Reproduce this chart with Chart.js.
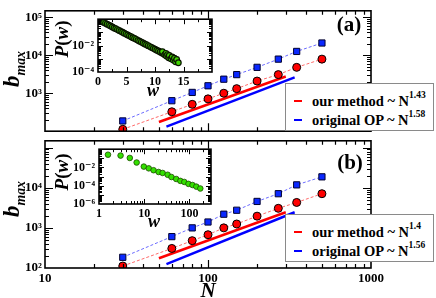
<!DOCTYPE html>
<html>
<head>
<meta charset="utf-8">
<script src="https://cdn.jsdelivr.net/npm/chart.js@4.4.1/dist/chart.umd.min.js"></script>
<style>
html, body { margin: 0; padding: 0; background: #fff; }
#wrap { position: relative; width: 436px; height: 298px; overflow: hidden;
  font-family: "Liberation Serif", "DejaVu Serif", serif; font-weight: bold; color: #000; }
canvas { position: absolute; }
.lbl { position: absolute; white-space: nowrap; line-height: 1; }
.rot { transform: translate(-50%, -50%) rotate(-90deg); }
.ctr { transform: translate(-50%, -50%); }
.leg { position: absolute; background: #fff; border: 1px solid #8a8a8a; box-sizing: border-box; }
.leg .row { position: absolute; left: 8px; white-space: nowrap; font-size: 14.5px; line-height: 1; }
.leg .sw { display: inline-block; width: 8px; height: 2px; vertical-align: middle; margin-right: 10px; position: relative; top: -2px; }
.leg sup { font-size: 9.5px; position: relative; top: -3px; vertical-align: top; }
sub { font-size: 60%; }
</style>
</head>
<body>
<div id="wrap">
  <canvas id="mainA" width="436" height="142" style="left:0;top:0"></canvas>
  <canvas id="mainB" width="436" height="168" style="left:0;top:130px"></canvas>
  <canvas id="insetA" width="165" height="88" style="left:55px;top:8px"></canvas>
  <canvas id="insetB" width="165" height="92" style="left:55px;top:138px"></canvas>
</div>
<script>
// ---- data ----
const N_SIZES = [30, 60, 80, 100, 125, 150, 200, 270, 350, 500];
const A_OURS  = [112, 325, 510, 710, 1000, 1320, 2090, 3090, 4800, 7900];
const A_ORIG  = [186, 635, 1050, 1570, 2340, 3090, 4800, 7900, 12600, 21000];
const B_OURS  = [112, 307, 480, 675, 1000, 1250, 1960, 3070, 4300, 7100];
const B_ORIG  = [185, 605, 1000, 1400, 2190, 2750, 4560, 7100, 11800, 18700];

// power-law guide lines (end points)
const FIT_N_OURS = [50, 300];
const FIT_N_ORIG = [55.6, 340];
const A_FIT_OURS = [175, 2750];
const A_FIT_ORIG = [132, 2600];
const B_FIT_OURS = [175, 2450];
const B_FIT_ORIG = [125, 2450];

const LEG_TEXT = ['our method ~ N', 'original OP ~ N'];
const LEG_EXP_A = ['1.43', '1.58'];
const LEG_EXP_B = ['1.4', '1.56'];

// inset (a): P(w), linear w
const INA_W = [0.7, 1.0, 1.3, 1.6, 1.9, 2.2, 2.5, 2.8, 3.1, 3.4, 3.7, 4.0, 4.3, 4.6, 4.9, 5.2, 5.5, 5.8,
  6.1, 6.4, 6.7, 7.0, 7.3, 7.6, 7.9, 8.2, 8.5, 8.8, 9.1, 9.4, 9.7, 10.0, 10.3, 10.6, 10.9, 11.2, 11.5,
  11.3, 11.7, 11.9, 12.0, 12.2, 12.4, 12.5, 12.8, 13.0, 13.2, 13.4, 13.6, 13.8, 14.1];
const INA_P = [0.68, 0.57, 0.49, 0.42, 0.36, 0.31, 0.26, 0.22, 0.19, 0.165, 0.14, 0.12, 0.103, 0.088, 0.075,
  0.064, 0.055, 0.047, 0.040, 0.035, 0.030, 0.025, 0.0215, 0.0185, 0.0158, 0.0135, 0.0116, 0.0099, 0.0085,
  0.0072, 0.0062, 0.0053, 0.0045, 0.0039, 0.0033, 0.0028, 0.0024,
  0.0035, 0.0020, 0.0026, 0.0016, 0.0021, 0.0012, 0.0018, 0.0010, 0.0014, 0.0008, 0.0011, 0.0006, 0.0009, 0.0005];

// inset (b): P(w), log-binned
const INB_W = [1.58, 3.0, 4.8, 6.8, 9.8, 12.6, 16.1, 20.8, 25.5, 33, 40, 51, 63, 77, 95, 117, 142, 174];
const INB_P = [0.25, 0.2, 0.11, 0.035, 0.0125, 0.008, 0.005, 0.0032, 0.0025, 0.0016, 0.0009, 0.00055,
  0.00034, 0.00026, 0.00016, 0.00012, 0.00008, 0.00005];

// tick labels shown
const MAIN_X_LABELS = [10, 100, 1000];
const A_Y_EXPS = [3, 4, 5];
const B_Y_EXPS = [2, 3, 4];
const INA_X_LABELS = [0, 5, 10, 15];
const INA_Y_EXPS = [-2, -4];
const INB_X_LABELS = [1, 10, 100];
const INB_Y_EXPS = [-2, -4, -6];

// ---- helpers ----
const SERIF = '"Liberation Serif", "DejaVu Serif", serif';
const SUP = { '0': '⁰', '1': '¹', '2': '²', '3': '³', '4': '⁴', '5': '⁵', '6': '⁶', '7': '⁷', '8': '⁸', '9': '⁹', '-': '⁻' };
const isPow10 = v => v > 0 && Math.abs(Math.log10(v) - Math.round(Math.log10(v))) < 1e-6;
const isNice = v => {
  const m = v / Math.pow(10, Math.floor(Math.log10(v) + 1e-9));
  return Math.abs(m - Math.round(m)) < 1e-6;
};
const powLabel = exps => v => {
  if (!isPow10(v)) return '';
  const e = Math.round(Math.log10(v));
  return exps.includes(e) ? '10' + String(e).split('').map(c => SUP[c]).join('') : '';
};
const pts = (xs, ys) => xs.map((x, i) => ({ x, y: ys[i] }));
const noGrid = { display: false, drawTicks: false };

// frame with inward ticks on all four sides
const frameTicks = {
  id: 'frameTicks',
  beforeDraw(chart, args, o) {
    if (!o.fill) return;
    const a = chart.chartArea, c = chart.ctx;
    c.save(); c.fillStyle = '#fff';
    c.fillRect(a.left, a.top, a.right - a.left, a.bottom - a.top);
    c.restore();
  },
  afterDraw(chart, args, o) {
    const { ctx: c, chartArea: a, scales } = chart;
    c.save();
    c.strokeStyle = '#000';
    c.lineWidth = o.tw || 1;
    c.beginPath();
    scales.x.ticks.forEach(t => {
      const v = t.value;
      if (o.xLog && !isNice(v)) return;
      const major = o.xLog ? isPow10(v) : Math.abs(v % o.xMajor) < 1e-9;
      const len = major ? o.major : o.minor;
      const px = Math.round(scales.x.getPixelForValue(v)) + 0.5;
      if (px < a.left + 1 || px > a.right - 1) return;
      c.moveTo(px, a.bottom); c.lineTo(px, a.bottom - len);
      c.moveTo(px, a.top); c.lineTo(px, a.top + len);
    });
    scales.y.ticks.forEach(t => {
      const v = t.value;
      if (!isNice(v)) return;
      const len = isPow10(v) ? o.major : o.minor;
      const py = Math.round(scales.y.getPixelForValue(v)) + 0.5;
      if (py < a.top + 1 || py > a.bottom - 1) return;
      c.moveTo(a.left, py); c.lineTo(a.left + len, py);
      c.moveTo(a.right, py); c.lineTo(a.right - len, py);
    });
    c.stroke();
    c.lineWidth = o.lw;
    c.strokeRect(a.left, a.top, a.right - a.left, a.bottom - a.top);
    c.restore();
  }
};
Chart.register(frameTicks);

function mainChart(id, ours, orig, fitOurs, fitOrig, yExps, showX, xh) {
  return new Chart(document.getElementById(id), {
    type: 'scatter',
    data: {
      datasets: [
        { data: pts(N_SIZES, ours), showLine: true, borderColor: '#ff6b6b', borderWidth: 1, borderDash: [3, 2],
          pointStyle: 'circle', pointRadius: 4, pointBackgroundColor: '#ff0000', pointBorderColor: '#000', pointBorderWidth: 1 },
        { data: pts(N_SIZES, orig), showLine: true, borderColor: '#6b6bff', borderWidth: 1, borderDash: [3, 2],
          pointStyle: 'rect', pointRadius: 4.4, pointBackgroundColor: '#0a28ff', pointBorderColor: '#000030', pointBorderWidth: 1 },
        { data: pts(FIT_N_OURS, fitOurs), showLine: true, borderColor: '#ff0000', borderWidth: 2.5, pointRadius: 0 },
        { data: pts(FIT_N_ORIG, fitOrig), showLine: true, borderColor: '#0000ff', borderWidth: 2.5, pointRadius: 0 },
      ]
    },
    options: {
      responsive: false, animation: false, devicePixelRatio: 1,
      layout: { padding: { left: 0, right: 65, top: 8, bottom: 0 } },
      plugins: { legend: { display: false }, tooltip: { enabled: false },
        frameTicks: { lw: 1.6, tw: 1.2, major: 8, minor: 4, xLog: true } },
      scales: {
        x: { type: 'logarithmic', min: 10, max: 1000,
          grid: noGrid, border: { display: false },
          ticks: { display: showX, autoSkip: false, maxRotation: 0, padding: 3, color: '#000',
            font: { family: SERIF, weight: 'bold', size: 13 },
            callback: v => (isPow10(v) && MAIN_X_LABELS.includes(Math.round(v))) ? String(Math.round(v)) : '' },
          afterFit: s => { s.height = xh; } },
        y: { type: 'logarithmic', min: 100, max: Math.pow(10, 5.17),
          grid: noGrid, border: { display: false },
          ticks: { autoSkip: false, padding: 3, color: '#000',
            font: { family: SERIF, weight: 'bold', size: 13 }, callback: powLabel(yExps) },
          afterFit: s => { s.width = 45; } }
      }
    }
  });
}

mainChart('mainA', A_OURS, A_ORIG, A_FIT_OURS, A_FIT_ORIG, A_Y_EXPS, false, 4);
mainChart('mainB', B_OURS, B_ORIG, B_FIT_OURS, B_FIT_ORIG, B_Y_EXPS, true, 30);

function insetChart(id, xs, ys, xOpts, yOpts, yw, xh, padR, padT, xLog, ptStyle) {
  return new Chart(document.getElementById(id), {
    type: 'scatter',
    data: { datasets: [{ data: pts(xs, ys), pointRadius: 2.8, pointBackgroundColor: ptStyle.fill,
      pointBorderColor: ptStyle.border, pointBorderWidth: ptStyle.bw }] },
    options: {
      responsive: false, animation: false, devicePixelRatio: 1,
      layout: { padding: { left: 0, right: padR, top: padT, bottom: 0 } },
      plugins: { legend: { display: false }, tooltip: { enabled: false },
        frameTicks: { fill: true, lw: 1.6, tw: 1, major: 5, minor: 3, xLog, xMajor: 5 } },
      scales: {
        x: Object.assign({ grid: noGrid, border: { display: false },
          afterFit: s => { s.height = xh; } }, xOpts),
        y: Object.assign({ type: 'logarithmic', grid: noGrid, border: { display: false },
          afterFit: s => { s.width = yw; } }, yOpts)
      }
    }
  });
}

const insetTickFont = { family: SERIF, weight: 'bold', size: 12 };
insetChart('insetA', INA_W, INA_P,
  { type: 'linear', min: 0, max: 20,
    ticks: { stepSize: 2.5, autoSkip: false, maxRotation: 0, padding: 3, color: '#000', font: insetTickFont,
      callback: v => INA_X_LABELS.includes(v) ? String(v) : '' } },
  { min: 1e-4, max: 1,
    ticks: { autoSkip: false, padding: 4, color: '#000', font: insetTickFont, callback: powLabel(INA_Y_EXPS) } },
  43, 24, 8, 9, false, { fill: '#3fd400', border: '#0a1400', bw: 1.2 });

insetChart('insetB', INB_W, INB_P,
  { type: 'logarithmic', min: 1, max: 300,
    ticks: { autoSkip: false, maxRotation: 0, padding: 3, color: '#000', font: insetTickFont,
      callback: v => (isPow10(v) && INB_X_LABELS.includes(Math.round(v))) ? String(Math.round(v)) : '' } },
  { min: 1e-6, max: 1,
    ticks: { autoSkip: false, padding: 4, color: '#000', font: insetTickFont, callback: powLabel(INB_Y_EXPS) } },
  44, 26, 9, 9, true, { fill: '#33e000', border: '#1d4a00', bw: 0.8 });

// ---- text overlays ----
const wrap = document.getElementById('wrap');
function addLabel(html, x, y, cls, style) {
  const d = document.createElement('div');
  d.className = 'lbl ' + cls;
  d.innerHTML = html;
  d.style.left = x + 'px'; d.style.top = y + 'px';
  Object.assign(d.style, style || {});
  wrap.appendChild(d);
}
const ylab = '<i>b<sub>max</sub></i>';
addLabel(ylab, 14, 69, 'rot', { fontSize: '23px' });
addLabel(ylab, 14, 199, 'rot', { fontSize: '23px' });
addLabel('<i>N</i>', 208, 290, 'ctr', { fontSize: '21px' });
addLabel('(a)', 349, 24, 'ctr', { fontSize: '21px' });
addLabel('(b)', 350, 162, 'ctr', { fontSize: '21px' });
addLabel('<i>P</i>(<i>w</i>)', 61, 39, 'rot', { fontSize: '19px' });
addLabel('<i>P</i>(<i>w</i>)', 61, 172, 'rot', { fontSize: '19px' });
addLabel('<i>w</i>', 153, 90, 'ctr', { fontSize: '18px' });
addLabel('<i>w</i>', 154, 221, 'ctr', { fontSize: '18px' });

function addLegend(top, exps) {
  const box = document.createElement('div');
  box.className = 'leg';
  Object.assign(box.style, { left: '285px', top: top + 'px', width: '149px', height: '48px' });
  const colors = ['#ff0000', '#0000ff'];
  LEG_TEXT.forEach((t, i) => {
    const r = document.createElement('div');
    r.className = 'row';
    r.style.top = (10 + i * 19) + 'px';
    r.innerHTML = `<span class="sw" style="background:${colors[i]}"></span>${t}<sup>${exps[i]}</sup>`;
    box.appendChild(r);
  });
  wrap.appendChild(box);
}
addLegend(83, LEG_EXP_A);
addLegend(214, LEG_EXP_B);
</script>
</body>
</html>
